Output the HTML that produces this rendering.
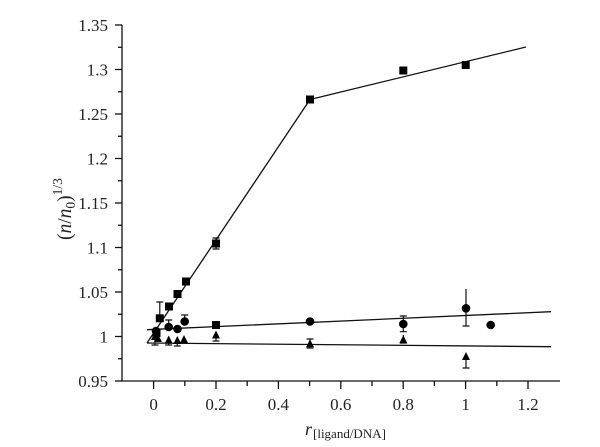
<!DOCTYPE html>
<html><head><meta charset="utf-8"><style>
html,body{margin:0;padding:0;background:#fff;}
svg{display:block;}
text{font-family:"Liberation Serif",serif;fill:#222;}
</style></head><body>
<svg width="600" height="447" viewBox="0 0 600 447" xmlns="http://www.w3.org/2000/svg">
<g stroke="#111" stroke-width="1.3" fill="none">
<line x1="122" y1="25" x2="122" y2="381.5"/>
<line x1="121" y1="381" x2="560" y2="381"/>
<line x1="115" y1="25" x2="122" y2="25"/>
<line x1="115" y1="69.5" x2="122" y2="69.5"/>
<line x1="115" y1="114" x2="122" y2="114"/>
<line x1="115" y1="158.5" x2="122" y2="158.5"/>
<line x1="115" y1="203" x2="122" y2="203"/>
<line x1="115" y1="247.5" x2="122" y2="247.5"/>
<line x1="115" y1="292" x2="122" y2="292"/>
<line x1="115" y1="336.5" x2="122" y2="336.5"/>
<line x1="115" y1="381" x2="122" y2="381"/>
<line x1="118" y1="47.25" x2="122" y2="47.25"/>
<line x1="118" y1="91.75" x2="122" y2="91.75"/>
<line x1="118" y1="136.25" x2="122" y2="136.25"/>
<line x1="118" y1="180.75" x2="122" y2="180.75"/>
<line x1="118" y1="225.25" x2="122" y2="225.25"/>
<line x1="118" y1="269.75" x2="122" y2="269.75"/>
<line x1="118" y1="314.25" x2="122" y2="314.25"/>
<line x1="118" y1="358.75" x2="122" y2="358.75"/>
<line x1="153.6" y1="381" x2="153.6" y2="389"/>
<line x1="216" y1="381" x2="216" y2="389"/>
<line x1="278.4" y1="381" x2="278.4" y2="389"/>
<line x1="340.8" y1="381" x2="340.8" y2="389"/>
<line x1="403.2" y1="381" x2="403.2" y2="389"/>
<line x1="465.6" y1="381" x2="465.6" y2="389"/>
<line x1="528" y1="381" x2="528" y2="389"/>
<line x1="184.8" y1="381" x2="184.8" y2="386"/>
<line x1="247.2" y1="381" x2="247.2" y2="386"/>
<line x1="309.6" y1="381" x2="309.6" y2="386"/>
<line x1="372" y1="381" x2="372" y2="386"/>
<line x1="434.4" y1="381" x2="434.4" y2="386"/>
<line x1="496.8" y1="381" x2="496.8" y2="386"/>
</g>
<g font-size="17" text-anchor="end">
<text x="108" y="31">1.35</text>
<text x="108" y="75.5">1.3</text>
<text x="108" y="120">1.25</text>
<text x="108" y="164.5">1.2</text>
<text x="108" y="209">1.15</text>
<text x="108" y="253.5">1.1</text>
<text x="108" y="298">1.05</text>
<text x="108" y="342.5">1</text>
<text x="108" y="387">0.95</text>
</g>
<g font-size="17" text-anchor="middle">
<text x="153.6" y="410">0</text>
<text x="216" y="410">0.2</text>
<text x="278.4" y="410">0.4</text>
<text x="340.8" y="410">0.6</text>
<text x="403.2" y="410">0.8</text>
<text x="465.6" y="410">1</text>
<text x="528" y="410">1.2</text>
</g>
<text x="305" y="435" font-size="18" font-style="italic">r</text>
<text x="313" y="438" font-size="13">[ligand/DNA]</text>
<g transform="translate(71,240) rotate(-90)">
<text x="0" y="0" font-size="19.5">(<tspan font-style="italic">n</tspan>/<tspan font-style="italic">n</tspan><tspan font-size="13.5" dy="4">0</tspan><tspan dy="-4">)</tspan><tspan font-size="13.5" dy="-9">1/3</tspan></text>
</g>
<g stroke="#111" stroke-width="1.3" fill="none">
<line x1="147" y1="343" x2="310" y2="99.5"/>
<line x1="310" y1="99.5" x2="526" y2="47"/>
<line x1="147" y1="329.7" x2="551" y2="311.7"/>
<line x1="147" y1="343" x2="551" y2="346.7"/>
</g>
<g stroke="#111" stroke-width="1.2" fill="none">
<path d="M159.8 318 V302 M156.3 302 H163.3"/>
<path d="M216 238 V249 M212.5 238 H219.5 M212.5 249 H219.5"/>
<path d="M168.7 327 V320 M165.2 320 H172.2"/>
<path d="M184.7 321.5 V315 M181.2 315 H188.2"/>
<path d="M403.3 316 V331.7 M399.8 316 H406.8 M399.8 331.7 H406.8"/>
<path d="M466 289 V326 M462.5 326 H469.5"/>
<path d="M155 336 V345 M151.5 345 H158.5"/>
<path d="M168.7 339 V345 M165.2 345 H172.2"/>
<path d="M177.3 340 V346 M173.8 346 H180.8"/>
<path d="M216 334 V341 M212.5 341 H219.5"/>
<path d="M310 339 V348 M306.5 339 H313.5 M306.5 348 H313.5"/>
<path d="M403.3 335 V343 M399.8 343 H406.8"/>
<path d="M466 356 V368 M462.5 368 H469.5"/>
</g>
<g fill="#000">
<rect x="152.5" y="329" width="8" height="8"/>
<rect x="155.8" y="314.3" width="8" height="8"/>
<rect x="165" y="302.5" width="8" height="8"/>
<rect x="173.5" y="290" width="8" height="8"/>
<rect x="182" y="277.5" width="8" height="8"/>
<rect x="212" y="239.5" width="8" height="8"/>
<rect x="306" y="95.5" width="8" height="8"/>
<rect x="399.3" y="66.5" width="8" height="8"/>
<rect x="461.7" y="61" width="8" height="8"/>
<rect x="212" y="321" width="8" height="8"/>
</g>
<g fill="#000">
<circle cx="156" cy="331" r="4.3"/>
<circle cx="168.7" cy="327" r="4.3"/>
<circle cx="177.5" cy="329" r="4.3"/>
<circle cx="184.7" cy="321.5" r="4.3"/>
<circle cx="310" cy="321.5" r="4.3"/>
<circle cx="403.3" cy="324" r="4.3"/>
<circle cx="466" cy="308.3" r="4.3"/>
<circle cx="490.7" cy="325" r="4.3"/>
</g>
<g fill="#000">
<polygon points="151,340 155,332 159,340"/>
<polygon points="154,342 158,334 162,342"/>
<polygon points="164.7,343.5 168.7,335.5 172.7,343.5"/>
<polygon points="173.3,344 177.3,336 181.3,344"/>
<polygon points="180,343 184,335 188,343"/>
<polygon points="212,338.5 216,330.5 220,338.5"/>
<polygon points="306,347.3 310,339.3 314,347.3"/>
<polygon points="399.3,343.3 403.3,335.3 407.3,343.3"/>
<polygon points="462,360 466,352 470,360"/>
</g>
</svg>
</body></html>
